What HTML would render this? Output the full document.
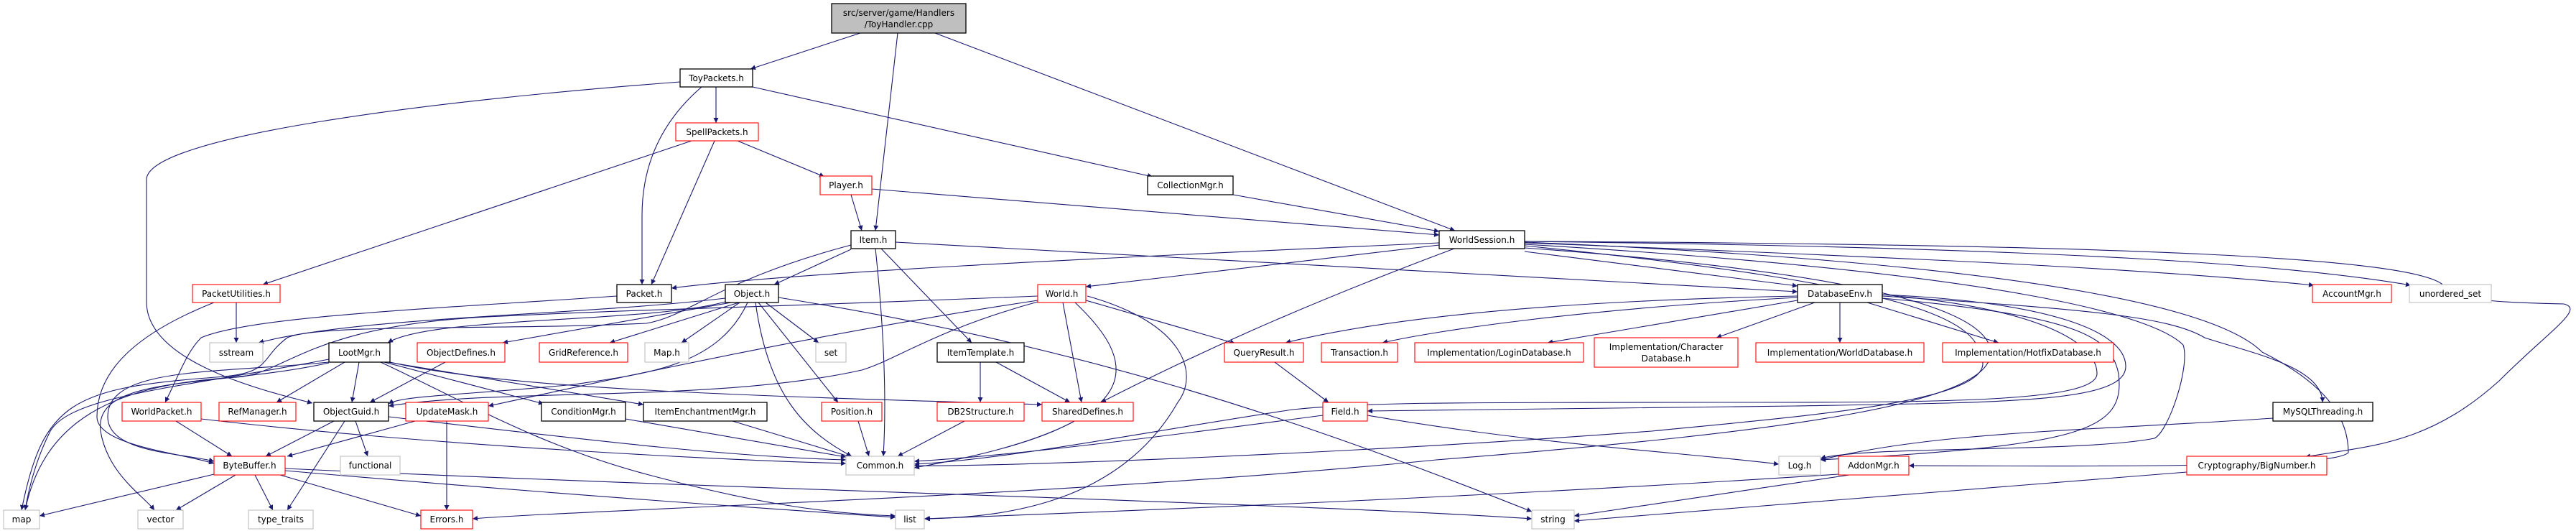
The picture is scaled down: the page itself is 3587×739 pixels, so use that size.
<!DOCTYPE html>
<html><head><meta charset="utf-8"><style>
html,body{margin:0;padding:0;background:#fff;}
svg{display:block;}
text{font-family:"DejaVu Sans","Liberation Sans",sans-serif;font-size:12px;fill:#000;}
.e{fill:none;stroke:#191970;stroke-width:1.1;marker-end:url(#a);}
.b{fill:#fff;stroke:#000;stroke-width:1.3;}
.r{fill:#fff;stroke:#ff0000;stroke-width:1.1;}
.g{fill:#fff;stroke:#bfbfbf;stroke-width:1.1;}
</style></head><body>
<svg width="3587" height="739" viewBox="0 0 3587 739" xmlns="http://www.w3.org/2000/svg">
<defs><marker id="a" viewBox="0 0 10 10" refX="10" refY="5" markerWidth="9" markerHeight="7" markerUnits="userSpaceOnUse" orient="auto"><path d="M0,0 L10,5 L0,10 z" fill="#191970"/></marker></defs>
<g>
<path class="e" d="M1198,46 L1045,96"/>
<path class="e" d="M1250,46 L1219,321"/>
<path class="e" d="M1302,46 L2026,321"/>
<path class="e" d="M947,114 C600,140 204,190 204,250 L204,420 C204,500 350,540 435,561"/>
<path class="e" d="M977,121 C920,170 894,230 894,300 L894,396"/>
<path class="e" d="M997,121 L997,171"/>
<path class="e" d="M1048,121 L1605,246"/>
<path class="e" d="M963,196 L366,396"/>
<path class="e" d="M995,196 L907,396"/>
<path class="e" d="M1027,196 L1148,246"/>
<path class="e" d="M1185,271 L1200,321"/>
<path class="e" d="M1214,263 L2004,327"/>
<path class="e" d="M1717,271 L2004,322"/>
<path class="e" d="M2004,338 C1500,360 1100,380 935,401"/>
<path class="e" d="M1185,347 L1078,396"/>
<path class="e" d="M1219,346 C1230,450 1235,550 1230,635"/>
<path class="e" d="M1227,346 L1353,477"/>
<path class="e" d="M1247,337 L2503,406"/>
<path class="e" d="M1185,341 C1000,390 960,440 900,450 C700,460 440,450 400,470 C360,500 380,520 300,525 C100,540 60,560 30,710"/>
<path class="e" d="M1010,415 C800,440 500,440 360,477"/>
<path class="e" d="M1010,420 C900,450 600,440 540,477"/>
<path class="e" d="M1018,421 L700,477"/>
<path class="e" d="M1029,421 L849,477"/>
<path class="e" d="M1030,421 L949,477"/>
<path class="e" d="M1066,421 L1140,477"/>
<path class="e" d="M1041,421 C1000,510 900,520 800,535 C650,550 560,550 541,562"/>
<path class="e" d="M1056,421 L1167,560"/>
<path class="e" d="M1052,421 C1070,550 1120,600 1186,635"/>
<path class="e" d="M1084,414 C1500,480 1800,580 2133,712"/>
<path class="e" d="M1445,418 C1100,470 800,540 680,565"/>
<path class="e" d="M1445,420 C1300,460 1250,500 1200,515 C1000,560 700,540 541,565"/>
<path class="e" d="M1480,421 L1506,560"/>
<path class="e" d="M1497,421 C1580,500 1620,590 1273,651"/>
<path class="e" d="M1514,412 C1650,450 1670,520 1640,560 C1560,700 1400,720 1288,722"/>
<path class="e" d="M1512,418 L1720,478"/>
<path class="e" d="M1445,412 C1000,430 900,430 700,440 C430,450 400,520 330,525 C150,535 60,590 35,710"/>
<path class="e" d="M2004,341 L1512,399"/>
<path class="e" d="M2025,346 C1800,430 1650,500 1533,560"/>
<path class="e" d="M2123,350 L2503,398"/>
<path class="e" d="M2123,338 C2700,360 3000,375 3222,397"/>
<path class="e" d="M2123,336 C2900,345 3200,370 3357,397"/>
<path class="e" d="M2123,336 C3000,340 3350,360 3400,395 C3420,415 3440,420 3570,423 C3600,430 3550,460 3480,530 C3380,620 3300,620 3210,636"/>
<path class="e" d="M2123,337 C2900,370 3100,440 3150,490 C3250,540 3270,590 3270,630 C3250,648 3050,650 2658,648"/>
<path class="e" d="M2123,340 C2800,380 3000,440 3040,480 C3050,510 3020,600 3000,610 C2900,630 2600,620 2535,638"/>
<path class="e" d="M2123,345 C2600,380 2750,430 2770,480 C2800,560 2500,600 2000,640 C1500,690 800,710 658,722"/>
<path class="e" d="M2123,342 C2700,400 2750,450 2760,500 C2780,560 2500,580 2300,600 C1900,630 1400,650 1273,648"/>
<path class="e" d="M2503,412 C2100,420 1900,450 1790,477"/>
<path class="e" d="M2503,414 C2200,430 2000,460 1925,477"/>
<path class="e" d="M2503,418 L2155,477"/>
<path class="e" d="M2527,421 L2390,470"/>
<path class="e" d="M2562,421 L2562,477"/>
<path class="e" d="M2600,421 L2783,477"/>
<path class="e" d="M2621,412 C2900,430 3020,440 3070,470 C3130,490 3234,510 3234,560"/>
<path class="e" d="M2621,410 C2850,420 2960,460 2960,510 C2960,560 2800,560 2500,565 C2200,570 2000,570 1904,572"/>
<path class="e" d="M2621,410 C2850,430 2920,480 2920,520 C2920,560 2700,560 2400,560 C2000,560 1900,560 1800,570 C1600,600 1400,640 1273,646"/>
<path class="e" d="M2621,415 C2900,440 2940,470 2950,520 C2960,600 2900,620 2535,640"/>
<path class="e" d="M1775,504 L1850,560"/>
<path class="e" d="M1842,578 C1600,610 1400,635 1273,642"/>
<path class="e" d="M1904,578 C2150,620 2350,630 2477,646"/>
<path class="e" d="M3165,582 C2900,600 2700,600 2535,640"/>
<path class="e" d="M2560,660 C2100,690 1600,710 1287,722"/>
<path class="e" d="M2575,661 L2192,718"/>
<path class="e" d="M3045,657 L2192,725"/>
<path class="e" d="M1365,504 L1365,560"/>
<path class="e" d="M1387,504 L1490,560"/>
<path class="e" d="M1343,586 L1250,635"/>
<path class="e" d="M480,504 L385,560"/>
<path class="e" d="M500,504 L490,560"/>
<path class="e" d="M535,504 L757,562"/>
<path class="e" d="M540,504 L896,563"/>
<path class="e" d="M543,504 C700,540 1000,550 1451,563"/>
<path class="e" d="M530,504 C650,560 750,620 900,660 C1050,700 1150,715 1247,718"/>
<path class="e" d="M458,504 C300,520 150,510 150,580 C150,630 250,630 298,642"/>
<path class="e" d="M458,500 C250,540 100,550 70,600 C50,640 40,680 35,710"/>
<path class="e" d="M458,505 C300,540 130,520 140,600 C150,660 200,690 215,710"/>
<path class="e" d="M620,504 L515,560"/>
<path class="e" d="M298,421 C200,460 135,510 135,580 C135,620 250,630 298,645"/>
<path class="e" d="M329,421 L329,477"/>
<path class="e" d="M859,412 C600,430 350,440 280,470 C260,490 250,520 230,560"/>
<path class="e" d="M245,586 L323,635"/>
<path class="e" d="M280,583 C600,620 1000,640 1178,645"/>
<path class="e" d="M465,586 L370,635"/>
<path class="e" d="M495,586 L512,635"/>
<path class="e" d="M480,586 L400,710"/>
<path class="e" d="M541,580 C800,610 1000,635 1178,640"/>
<path class="e" d="M578,586 L400,635"/>
<path class="e" d="M622,586 L622,710"/>
<path class="e" d="M871,583 L1178,636"/>
<path class="e" d="M1020,586 L1185,636"/>
<path class="e" d="M1195,586 L1210,635"/>
<path class="e" d="M298,660 L55,718"/>
<path class="e" d="M328,661 L245,710"/>
<path class="e" d="M355,661 L380,710"/>
<path class="e" d="M390,661 L586,718"/>
<path class="e" d="M397,655 C800,690 1100,710 1247,720"/>
<path class="e" d="M397,652 C1000,680 1800,700 2133,722"/>
</g>
<g>
<rect x="1158" y="5" width="187" height="41" fill="#bfbfbf" stroke="#000" stroke-width="1.3"/>
<text x="1251.5" y="22" text-anchor="middle">src/server/game/Handlers</text>
<text x="1251.5" y="38" text-anchor="middle">/ToyHandler.cpp</text>

<rect class="b" x="947" y="96" width="101" height="25"/><text x="997.5" y="113" text-anchor="middle">ToyPackets.h</text>
<rect class="r" x="941" y="171" width="115" height="25"/><text x="998.5" y="188" text-anchor="middle">SpellPackets.h</text>
<rect class="r" x="1142" y="245" width="72" height="26"/><text x="1178" y="262" text-anchor="middle">Player.h</text>
<rect class="b" x="1598" y="245" width="119" height="26"/><text x="1657.5" y="262" text-anchor="middle">CollectionMgr.h</text>
<rect class="b" x="1185" y="321" width="62" height="25"/><text x="1216" y="338" text-anchor="middle">Item.h</text>
<rect class="b" x="2004" y="321" width="119" height="25"/><text x="2063.5" y="338" text-anchor="middle">WorldSession.h</text>

<rect class="r" x="268" y="396" width="122" height="25"/><text x="329" y="413" text-anchor="middle">PacketUtilities.h</text>
<rect class="b" x="859" y="396" width="76" height="25"/><text x="897" y="413" text-anchor="middle">Packet.h</text>
<rect class="b" x="1010" y="396" width="74" height="25"/><text x="1047" y="413" text-anchor="middle">Object.h</text>
<rect class="r" x="1445" y="396" width="67" height="25"/><text x="1478.5" y="413" text-anchor="middle">World.h</text>
<rect class="b" x="2503" y="396" width="118" height="25"/><text x="2562" y="413" text-anchor="middle">DatabaseEnv.h</text>
<rect class="r" x="3220" y="396" width="110" height="25"/><text x="3275" y="413" text-anchor="middle">AccountMgr.h</text>
<rect class="g" x="3355" y="396" width="114" height="25"/><text x="3412" y="413" text-anchor="middle">unordered_set</text>

<rect class="g" x="292" y="477" width="74" height="27"/><text x="329" y="495" text-anchor="middle">sstream</text>
<rect class="b" x="458" y="477" width="85" height="27"/><text x="500.5" y="495" text-anchor="middle">LootMgr.h</text>
<rect class="r" x="581" y="477" width="122" height="27"/><text x="642" y="495" text-anchor="middle">ObjectDefines.h</text>
<rect class="r" x="751" y="477" width="123" height="27"/><text x="812.5" y="495" text-anchor="middle">GridReference.h</text>
<rect class="g" x="898" y="477" width="61" height="27"/><text x="928.5" y="495" text-anchor="middle">Map.h</text>
<rect class="g" x="1136" y="477" width="42" height="27"/><text x="1157" y="495" text-anchor="middle">set</text>
<rect class="b" x="1305" y="477" width="121" height="27"/><text x="1365.5" y="495" text-anchor="middle">ItemTemplate.h</text>
<rect class="r" x="1705" y="477" width="110" height="27"/><text x="1760" y="495" text-anchor="middle">QueryResult.h</text>
<rect class="r" x="1840" y="477" width="106" height="27"/><text x="1893" y="495" text-anchor="middle">Transaction.h</text>
<rect class="r" x="1970" y="477" width="235" height="27"/><text x="2087.5" y="495" text-anchor="middle">Implementation/LoginDatabase.h</text>
<rect class="r" x="2220" y="470" width="200" height="41"/><text x="2320" y="487" text-anchor="middle">Implementation/Character</text><text x="2320" y="503" text-anchor="middle">Database.h</text>
<rect class="r" x="2445" y="477" width="234" height="27"/><text x="2562" y="495" text-anchor="middle">Implementation/WorldDatabase.h</text>
<rect class="r" x="2705" y="477" width="238" height="27"/><text x="2824" y="495" text-anchor="middle">Implementation/HotfixDatabase.h</text>

<rect class="r" x="170" y="560" width="110" height="26"/><text x="225" y="577" text-anchor="middle">WorldPacket.h</text>
<rect class="r" x="305" y="560" width="107" height="26"/><text x="358.5" y="577" text-anchor="middle">RefManager.h</text>
<rect class="b" x="437" y="560" width="104" height="26"/><text x="489" y="577" text-anchor="middle">ObjectGuid.h</text>
<rect class="r" x="565" y="560" width="115" height="26"/><text x="622.5" y="577" text-anchor="middle">UpdateMask.h</text>
<rect class="b" x="754" y="560" width="117" height="26"/><text x="812.5" y="577" text-anchor="middle">ConditionMgr.h</text>
<rect class="b" x="896" y="560" width="172" height="26"/><text x="982" y="577" text-anchor="middle">ItemEnchantmentMgr.h</text>
<rect class="r" x="1144" y="560" width="84" height="26"/><text x="1186" y="577" text-anchor="middle">Position.h</text>
<rect class="r" x="1305" y="560" width="121" height="26"/><text x="1365.5" y="577" text-anchor="middle">DB2Structure.h</text>
<rect class="r" x="1451" y="560" width="127" height="26"/><text x="1514.5" y="577" text-anchor="middle">SharedDefines.h</text>
<rect class="r" x="1842" y="560" width="62" height="26"/><text x="1873" y="577" text-anchor="middle">Field.h</text>
<rect class="b" x="3165" y="560" width="139" height="26"/><text x="3234.5" y="577" text-anchor="middle">MySQLThreading.h</text>

<rect class="r" x="298" y="635" width="99" height="26"/><text x="347.5" y="652" text-anchor="middle">ByteBuffer.h</text>
<rect class="g" x="474" y="635" width="83" height="26"/><text x="515.5" y="652" text-anchor="middle">functional</text>
<rect class="g" x="1178" y="635" width="95" height="26"/><text x="1225.5" y="652" text-anchor="middle">Common.h</text>
<rect class="g" x="2477" y="635" width="58" height="26"/><text x="2506" y="652" text-anchor="middle">Log.h</text>
<rect class="r" x="2560" y="635" width="98" height="26"/><text x="2609" y="652" text-anchor="middle">AddonMgr.h</text>
<rect class="r" x="3045" y="635" width="195" height="26"/><text x="3142.5" y="652" text-anchor="middle">Cryptography/BigNumber.h</text>

<rect class="g" x="5" y="710" width="50" height="26"/><text x="30" y="727" text-anchor="middle">map</text>
<rect class="g" x="192" y="710" width="63" height="26"/><text x="223.5" y="727" text-anchor="middle">vector</text>
<rect class="g" x="346" y="710" width="90" height="26"/><text x="391" y="727" text-anchor="middle">type_traits</text>
<rect class="r" x="586" y="710" width="72" height="26"/><text x="622" y="727" text-anchor="middle">Errors.h</text>
<rect class="g" x="1247" y="710" width="40" height="26"/><text x="1267" y="727" text-anchor="middle">list</text>
<rect class="g" x="2133" y="710" width="59" height="26"/><text x="2162.5" y="727" text-anchor="middle">string</text>
</g>
</svg>
</body></html>
